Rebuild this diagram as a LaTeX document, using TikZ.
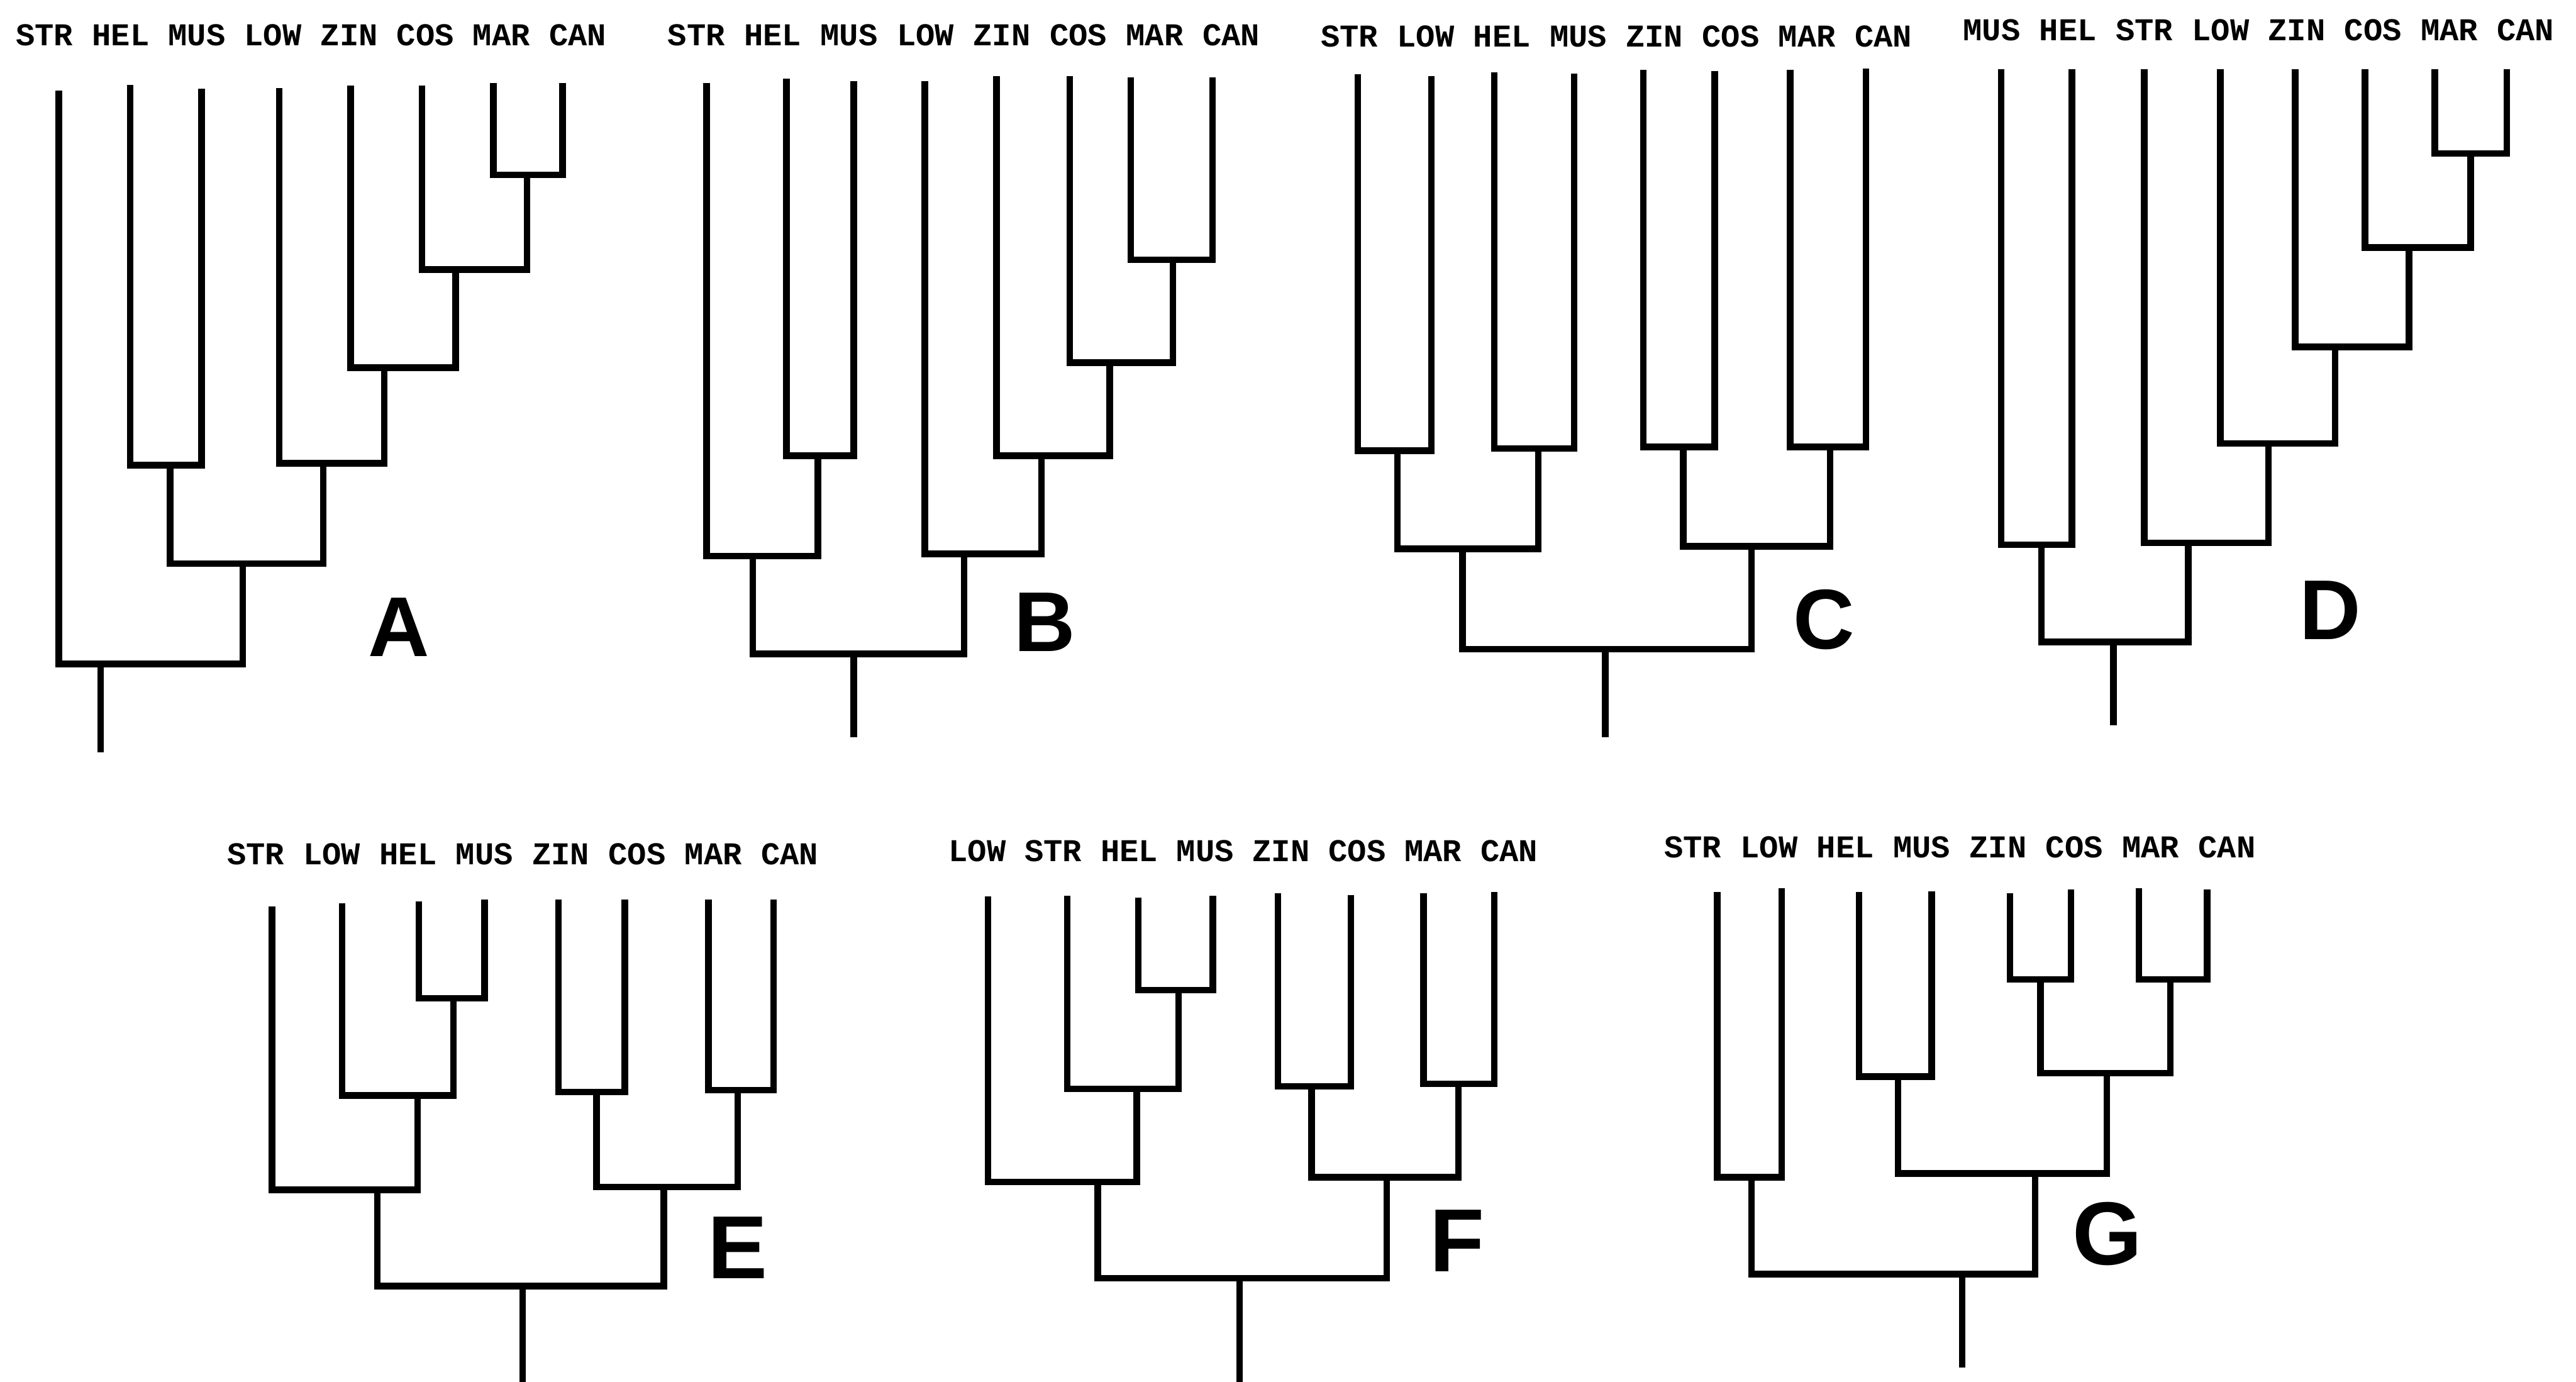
\documentclass[tikz,border=0pt]{standalone}
\usepackage{fontspec}
\newfontfamily\taxonfont{Liberation Mono}
\newfontfamily\panelfont{Liberation Sans}

% one row of taxon labels, evenly spaced in a monospaced line
% #1 tree prefix, #2 style, #3 left edge, #4 right edge, #5 baseline height, #6 taxa
\newcommand\taxonrow[6]{%
  \foreach \t [count=\i from 0] in {#6} {%
    \node[#2] (#1-\t) at ({#3+(1.5+4*\i)*(#4-#3)/31},#5) {\t};
  }%
}

\begin{document}
\begin{tikzpicture}[x=0.1cm,y=-0.1cm,
  branch/.style={line width=0.40cm, line join=miter, line cap=butt},
  taxon/.style={font=\taxonfont\bfseries\fontsize{55}{60}\selectfont, inner sep=0pt},
  taxonplain/.style={font=\taxonfont\bfseries\fontsize{55}{60}\selectfont, inner sep=0pt},
  panel/.style={font=\panelfont\bfseries\fontsize{147}{150}\selectfont, inner sep=0pt},
  panelbig/.style={font=\panelfont\bfseries\fontsize{155}{160}\selectfont, inner sep=0pt}]

\fill[white] (0,0) rectangle (1568,841);
\useasboundingbox (0,0) rectangle (1568,841);

% ---------------- tree A ----------------
\taxonrow{A}{taxon}{9.7}{369.0}{21.5}{STR,HEL,MUS,LOW,ZIN,COS,MAR,CAN}
\foreach \t/\x/\y in {STR/35.8/55,HEL/79.2/51.5,MUS/122.7/54,LOW/170/53.5,ZIN/213.4/52,COS/256.9/52,MAR/300.3/50.7,CAN/342.5/50.7}
  \coordinate (A-leaf-\t) at (\x,\y);
\coordinate (A-mc)   at (320.8,106.5);
\coordinate (A-cmc)  at (277.3,164);
\coordinate (A-z)    at (233.9,223.7);
\coordinate (A-l)    at (196.8,282);
\coordinate (A-hm)   at (103.5,283);
\coordinate (A-in)   at (147.7,343);
\coordinate (A-root) at (61.3,404);
\coordinate (A-base) at (61.3,457.7);
\draw[branch] (A-leaf-MAR) |- (A-mc) -| (A-leaf-CAN);
\draw[branch] (A-leaf-COS) |- (A-cmc) -| (A-mc);
\draw[branch] (A-leaf-ZIN) |- (A-z) -| (A-cmc);
\draw[branch] (A-leaf-LOW) |- (A-l) -| (A-z);
\draw[branch] (A-leaf-HEL) |- (A-hm) -| (A-leaf-MUS);
\draw[branch] (A-hm) |- (A-in) -| (A-l);
\draw[branch] (A-leaf-STR) |- (A-root) -| (A-in);
\draw[branch] (A-root) -- (A-base);
\node[panel] (A-name) at (242.8,381.7) {A};

% ---------------- tree B ----------------
\taxonrow{B}{taxon}{406.4}{766.8}{21.5}{STR,HEL,MUS,LOW,ZIN,COS,MAR,CAN}
\foreach \t/\x/\y in {STR/430.1/50.7,HEL/478.7/47.7,MUS/519.6/49.2,LOW/563/49.2,ZIN/606.5/46.2,COS/651.2/46.2,MAR/688.3/47.1,CAN/738.1/47.1}
  \coordinate (B-leaf-\t) at (\x,\y);
\coordinate (B-mc)   at (713.9,158);
\coordinate (B-cmc)  at (675.5,220.7);
\coordinate (B-z)    at (633.9,277.3);
\coordinate (B-l)    at (586.8,337);
\coordinate (B-hm)   at (497.9,277.3);
\coordinate (B-s)    at (458.3,338.5);
\coordinate (B-root) at (519.6,398);
\coordinate (B-base) at (519.6,448.8);
\draw[branch] (B-leaf-MAR) |- (B-mc) -| (B-leaf-CAN);
\draw[branch] (B-leaf-COS) |- (B-cmc) -| (B-mc);
\draw[branch] (B-leaf-ZIN) |- (B-z) -| (B-cmc);
\draw[branch] (B-leaf-LOW) |- (B-l) -| (B-z);
\draw[branch] (B-leaf-HEL) |- (B-hm) -| (B-leaf-MUS);
\draw[branch] (B-leaf-STR) |- (B-s) -| (B-hm);
\draw[branch] (B-s) |- (B-root) -| (B-l);
\draw[branch] (B-root) -- (B-base);
\node[panel] (B-name) at (635.9,378.7) {B};

% ---------------- tree C ----------------
\taxonrow{C}{taxon}{804}{1163.8}{22}{STR,LOW,HEL,MUS,ZIN,COS,MAR,CAN}
\foreach \t/\x/\y in {STR/826.4/45.3,LOW/871.2/46.2,HEL/909.5/44.1,MUS/958.1/44.7,ZIN/1000.3/42.6,COS/1043.7/43.2,MAR/1089.7/42.3,CAN/1135.7/41.7}
  \coordinate (C-leaf-\t) at (\x,\y);
\coordinate (C-sl)    at (850.7,274.3);
\coordinate (C-hm)    at (936.3,273);
\coordinate (C-zc)    at (1024.5,272);
\coordinate (C-mc)    at (1114,272);
\coordinate (C-left)  at (890.3,334);
\coordinate (C-right) at (1066.2,332.5);
\coordinate (C-root)  at (977.2,395);
\coordinate (C-base)  at (977.2,448.8);
\draw[branch] (C-leaf-STR) |- (C-sl) -| (C-leaf-LOW);
\draw[branch] (C-leaf-HEL) |- (C-hm) -| (C-leaf-MUS);
\draw[branch] (C-leaf-ZIN) |- (C-zc) -| (C-leaf-COS);
\draw[branch] (C-leaf-MAR) |- (C-mc) -| (C-leaf-CAN);
\draw[branch] (C-sl) |- (C-left) -| (C-hm);
\draw[branch] (C-zc) |- (C-right) -| (C-mc);
\draw[branch] (C-left) |- (C-root) -| (C-right);
\draw[branch] (C-root) -- (C-base);
\node[panel] (C-name) at (1110.2,377.2) {C};

% ---------------- tree D ----------------
\taxonrow{D}{taxon}{1195}{1554.7}{18.5}{MUS,HEL,STR,LOW,ZIN,COS,MAR,CAN}
\foreach \t/\x in {MUS/1218.1,HEL/1261.1,STR/1305.2,LOW/1351.5,ZIN/1397,COS/1439.6,MAR/1482.1,CAN/1525.9}
  \coordinate (D-leaf-\t) at (\x,42);
\coordinate (D-mc)   at (1503.9,93.3);
\coordinate (D-cmc)  at (1466.3,150.6);
\coordinate (D-z)    at (1421.3,211.1);
\coordinate (D-l)    at (1380.7,269.9);
\coordinate (D-s)    at (1331.9,330.4);
\coordinate (D-mh)   at (1242.6,331.6);
\coordinate (D-root) at (1286.4,390.6);
\coordinate (D-base) at (1286.4,441.3);
\draw[branch] (D-leaf-MAR) |- (D-mc) -| (D-leaf-CAN);
\draw[branch] (D-leaf-COS) |- (D-cmc) -| (D-mc);
\draw[branch] (D-leaf-ZIN) |- (D-z) -| (D-cmc);
\draw[branch] (D-leaf-LOW) |- (D-l) -| (D-z);
\draw[branch] (D-leaf-STR) |- (D-s) -| (D-l);
\draw[branch] (D-leaf-MUS) |- (D-mh) -| (D-leaf-HEL);
\draw[branch] (D-mh) |- (D-root) -| (D-s);
\draw[branch] (D-root) -- (D-base);
\node[panel] (D-name) at (1418.3,371.3) {D};

% ---------------- tree E ----------------
\taxonrow{E}{taxonplain}{138.2}{498.1}{519.7}{STR,LOW,HEL,MUS,ZIN,COS,MAR,CAN}
\foreach \t/\x/\y in {STR/165.5/551.8,LOW/208.3/549.6,HEL/254.9/548.4,MUS/295/547.3,ZIN/340/547.3,COS/380.3/547.3,MAR/431.3/547.3,CAN/470.8/547.3}
  \coordinate (E-leaf-\t) at (\x,\y);
\coordinate (E-hm)    at (275.9,607.5);
\coordinate (E-l)     at (254.1,666.7);
\coordinate (E-s)     at (229.6,724.1);
\coordinate (E-zc)    at (363.1,664.5);
\coordinate (E-mc)    at (449,663.4);
\coordinate (E-right) at (404,722.4);
\coordinate (E-root)  at (318.2,782.7);
\coordinate (E-base)  at (318.2,841);
\draw[branch] (E-leaf-HEL) |- (E-hm) -| (E-leaf-MUS);
\draw[branch] (E-leaf-LOW) |- (E-l) -| (E-hm);
\draw[branch] (E-leaf-STR) |- (E-s) -| (E-l);
\draw[branch] (E-leaf-ZIN) |- (E-zc) -| (E-leaf-COS);
\draw[branch] (E-leaf-MAR) |- (E-mc) -| (E-leaf-CAN);
\draw[branch] (E-zc) |- (E-right) -| (E-mc);
\draw[branch] (E-s) |- (E-root) -| (E-right);
\draw[branch] (E-root) -- (E-base);
\node[panelbig] (E-name) at (449,759.5) {E};

% ---------------- tree F ----------------
\taxonrow{F}{taxonplain}{577.5}{935.9}{518}{LOW,STR,HEL,MUS,ZIN,COS,MAR,CAN}
\foreach \t/\x/\y in {LOW/601.4/545.6,STR/649.7/545,HEL/692.8/546.2,MUS/738.3/545,ZIN/777.8/543.4,COS/822.2/544.7,MAR/866.4/543.4,CAN/909.5/542.9}
  \coordinate (F-leaf-\t) at (\x,\y);
\coordinate (F-hm)    at (717.3,602.6);
\coordinate (F-s)     at (692,662.7);
\coordinate (F-l)     at (668.2,719.3);
\coordinate (F-zc)    at (798.3,661.2);
\coordinate (F-mc)    at (887.7,659.6);
\coordinate (F-right) at (844.1,716.4);
\coordinate (F-root)  at (754.6,777.8);
\coordinate (F-base)  at (754.6,841);
\draw[branch] (F-leaf-HEL) |- (F-hm) -| (F-leaf-MUS);
\draw[branch] (F-leaf-STR) |- (F-s) -| (F-hm);
\draw[branch] (F-leaf-LOW) |- (F-l) -| (F-s);
\draw[branch] (F-leaf-ZIN) |- (F-zc) -| (F-leaf-COS);
\draw[branch] (F-leaf-MAR) |- (F-mc) -| (F-leaf-CAN);
\draw[branch] (F-zc) |- (F-right) -| (F-mc);
\draw[branch] (F-l) |- (F-root) -| (F-right);
\draw[branch] (F-root) -- (F-base);
\node[panelbig] (F-name) at (886.9,755.1) {F};

% ---------------- tree G ----------------
\taxonrow{G}{taxonplain}{1013}{1372.9}{515.5}{STR,LOW,HEL,MUS,ZIN,COS,MAR,CAN}
\foreach \t/\x/\y in {STR/1045.2/542.9,LOW/1084.5/540.7,HEL/1131.6/542.9,MUS/1175.8/542.5,ZIN/1223.5/543.4,COS/1260.6/541.2,MAR/1302/540.7,CAN/1343.4/541.2}
  \coordinate (G-leaf-\t) at (\x,\y);
\coordinate (G-sl)   at (1066.2,716.4);
\coordinate (G-hm)   at (1155.3,655.2);
\coordinate (G-zc)   at (1242,596);
\coordinate (G-mc)   at (1321.1,596);
\coordinate (G-zm)   at (1282.4,653);
\coordinate (G-mid)  at (1238.7,714.2);
\coordinate (G-root) at (1194.3,775.4);
\coordinate (G-base) at (1194.3,832.4);
\draw[branch] (G-leaf-STR) |- (G-sl) -| (G-leaf-LOW);
\draw[branch] (G-leaf-HEL) |- (G-hm) -| (G-leaf-MUS);
\draw[branch] (G-leaf-ZIN) |- (G-zc) -| (G-leaf-COS);
\draw[branch] (G-leaf-MAR) |- (G-mc) -| (G-leaf-CAN);
\draw[branch] (G-zc) |- (G-zm) -| (G-mc);
\draw[branch] (G-hm) |- (G-mid) -| (G-zm);
\draw[branch] (G-sl) |- (G-root) -| (G-mid);
\draw[branch] (G-root) -- (G-base);
\node[panelbig] (G-name) at (1282.9,750.7) {G};

\end{tikzpicture}
\end{document}
